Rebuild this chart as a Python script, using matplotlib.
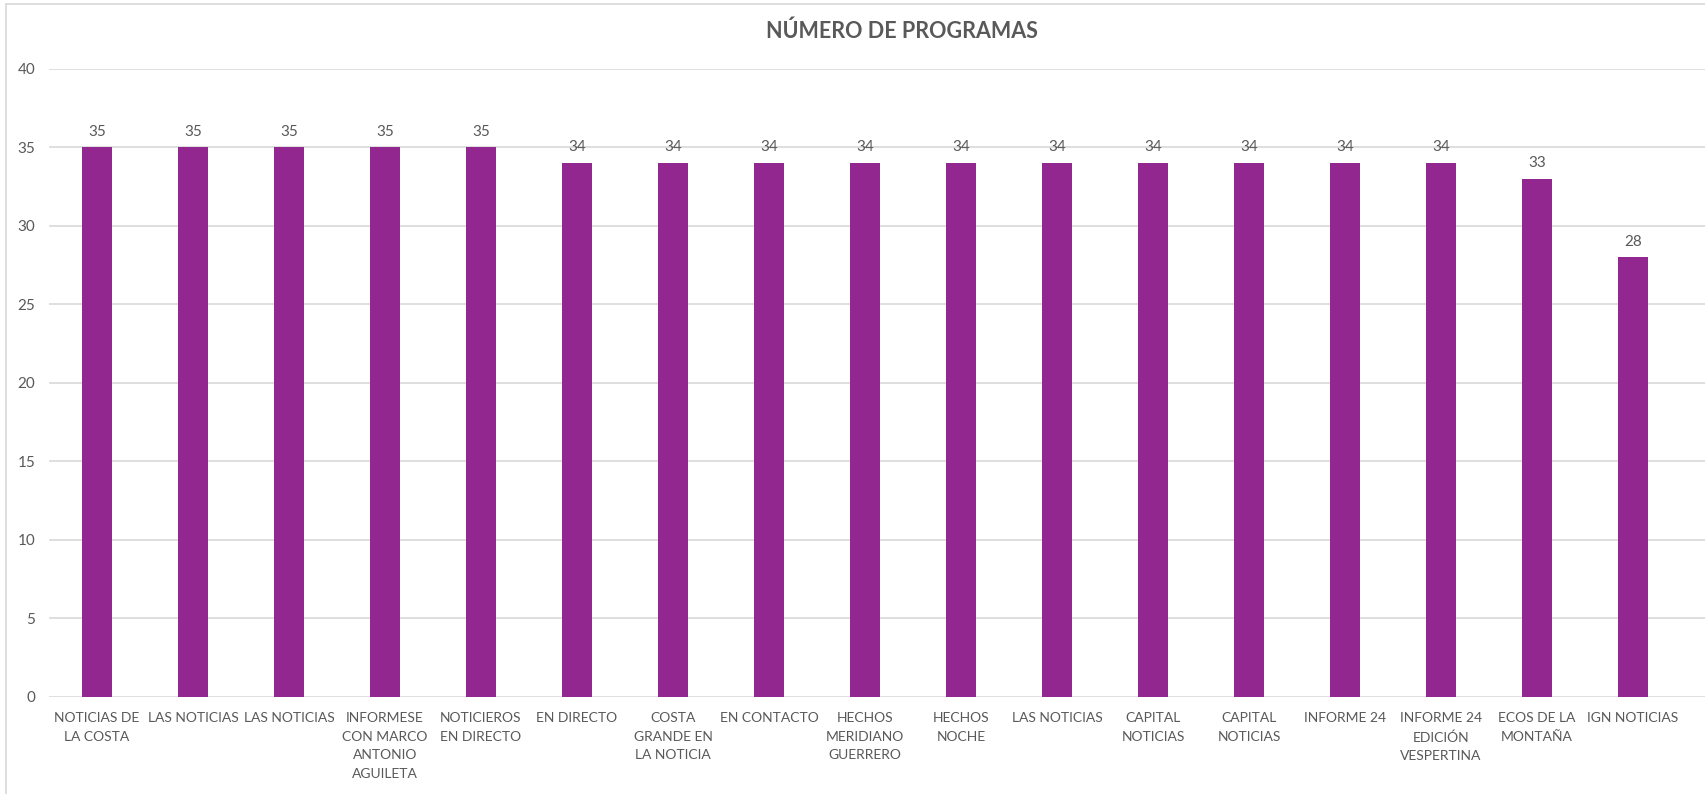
import matplotlib.pyplot as plt
from matplotlib.lines import Line2D

plt.rcParams['font.family'] = ['Lato', 'DejaVu Sans']

# Data
programas = ['NOTICIAS DE\nLA COSTA', 'LAS NOTICIAS', 'LAS NOTICIAS',
             'INFORMESE\nCON MARCO\nANTONIO\nAGUILETA', 'NOTICIEROS\nEN DIRECTO',
             'EN DIRECTO', 'COSTA\nGRANDE EN\nLA NOTICIA', 'EN CONTACTO',
             'HECHOS\nMERIDIANO\nGUERRERO', 'HECHOS\nNOCHE', 'LAS NOTICIAS',
             'CAPITAL\nNOTICIAS', 'CAPITAL\nNOTICIAS', 'INFORME 24',
             'INFORME 24\nEDICIÓN\nVESPERTINA', 'ECOS DE LA\nMONTAÑA', 'IGN NOTICIAS']
numero = [35, 35, 35, 35, 35, 34, 34, 34, 34, 34, 34, 34, 34, 34, 34, 33, 28]
yticks = [0, 5, 10, 15, 20, 25, 30, 35, 40]

text_gray = '#595959'
grid_gray = '#D9D9D9'
bar_color = '#92278F'

fig = plt.figure(figsize=(17.05, 7.94), dpi=100)
ax = fig.add_axes([0.0287, 0.1222, 1 - 0.0287, 0.7915])

x = list(range(len(programas)))
ax.bar(x, numero, width=0.31, color=bar_color, zorder=3)

for xi, v in zip(x, numero):
    ax.annotate(str(v), (xi, v), xytext=(0, 6), textcoords='offset points',
                ha='center', va='bottom', fontsize=11, color=text_gray)

ax.set_ylim(0, 40)
ax.set_xlim(-0.5, 16.75)
ax.set_yticks(yticks)
ax.set_yticklabels([str(t) for t in yticks], fontsize=11, color=text_gray)
ax.set_xticks(x)
ax.set_xticklabels(programas, fontsize=10, color=text_gray, linespacing=1.65)
ax.tick_params(axis='both', length=0)
ax.tick_params(axis='y', pad=10)
ax.tick_params(axis='x', pad=11)
ax.grid(axis='y', color=grid_gray, linewidth=1.2, zorder=0)
for s in ax.spines.values():
    s.set_visible(False)

ax.set_title('NÚMERO DE PROGRAMAS', fontsize=15.5, fontweight='bold',
             color=text_gray, x=(902 - 49) / (1705 - 49), y=1.0, pad=22)

# chart border (top and left visible)
fig.add_artist(Line2D([6 / 1705, 1], [1 - 4 / 794, 1 - 4 / 794], color=grid_gray, lw=1.2))
fig.add_artist(Line2D([6 / 1705, 6 / 1705], [0, 1 - 4 / 794], color=grid_gray, lw=1.2))

plt.savefig('out.png', dpi=100, facecolor='white')
